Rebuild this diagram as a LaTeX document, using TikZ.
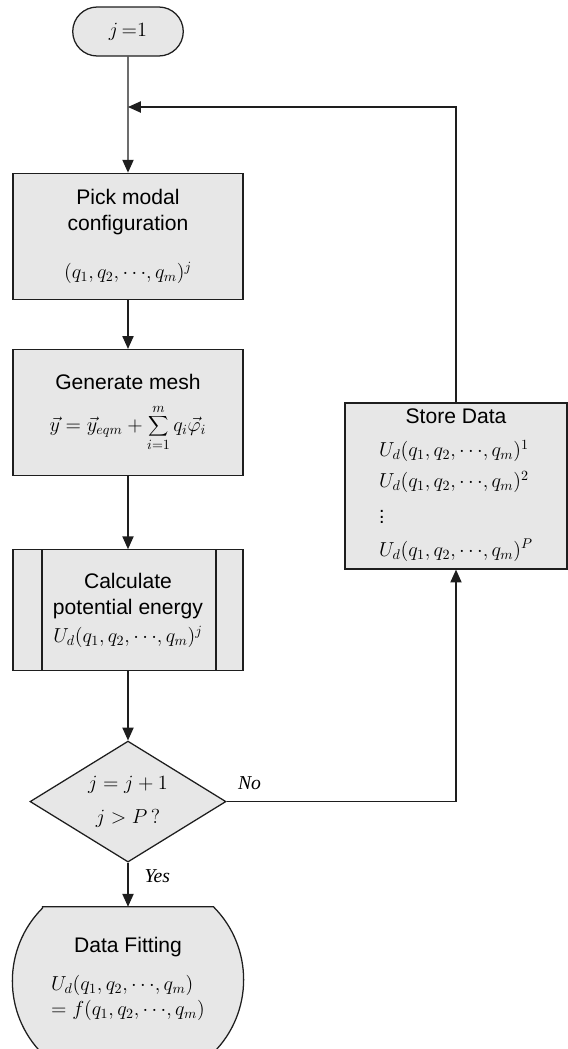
\documentclass[tikz,border=0pt]{standalone}
\usepackage{fontspec}
\setmainfont{Liberation Serif}
\setsansfont{Liberation Sans}
\usepackage{tikz}
\usetikzlibrary{arrows.meta, positioning, shapes.geometric, shapes.misc, backgrounds}
\usepackage{xcolor}
\definecolor{BoxFill}{HTML}{E7E7E7}
\definecolor{LineInk}{HTML}{1E1E1E}
\newcommand{\qlist}{q_1{,}\,q_2{,}\,{\cdots}{,}\,q_m}
\newcommand{\mfont}{\fontsize{14}{18}\selectfont}
\tikzset{
  base/.style={draw=LineInk, line width=0.9pt, fill=BoxFill, align=center,
    font=\sffamily\fontsize{15}{18.5}\selectfont, inner sep=3pt},
  termbox/.style={base, rounded rectangle, minimum width=2.975cm, minimum height=1.225cm},
  procbox/.style={base, rectangle, minimum width=5.75cm, minimum height=3.15cm},
  subbox/.style={base, rectangle, minimum width=5.75cm, minimum height=3.025cm,
    path picture={
      \draw[LineInk, line width=0.9pt]
        ([xshift=0.725cm]path picture bounding box.north west) --
        ([xshift=0.725cm]path picture bounding box.south west)
        ([xshift=-0.675cm]path picture bounding box.north east) --
        ([xshift=-0.675cm]path picture bounding box.south east);}},
  decbox/.style={base, diamond, aspect=1.6, inner sep=0pt, minimum width=4.9cm, minimum height=3.025cm},
  endbox/.style={base, rectangle, draw=none, fill=none, minimum width=5.75cm, minimum height=3.65cm},
  endline/.style={draw=LineInk, line width=0.9pt, fill=BoxFill},
  flow/.style={-{Triangle[length=3.2mm, width=2.8mm]}, draw=LineInk, line width=0.9pt},
  lab/.style={font=\rmfamily\itshape\fontsize{14}{16}\selectfont},
}

\begin{document}
\begin{tikzpicture}
    \useasboundingbox (0,0) rectangle (14.2,-26.225);
    \node[termbox] (start) at (3.2,-0.7875) {\mfont$j\,{=}1$};
    \node[procbox, below=2.9cm of start] (pick) {Pick modal\\configuration\\[16pt]\mfont$(\qlist)^j$};
    \node[procbox, below=1.225cm of pick] (mesh) {Generate mesh\\[10pt]\mfont$\displaystyle\vec{y}=\vec{y}_{eqm}+\sum_{i=1}^{m}q_i\vec{\varphi}_i$};
    \node[subbox, below=1.825cm of mesh] (calc) {Calculate\\potential energy\\[2pt]\mfont$U_d(\qlist)^j$};
    \node[decbox, below=1.725cm of calc] (dec) {\mfont$j=j+1$\\[6pt]\mfont$j>P\,?$};
    \node[endbox, below=1.1cm of dec] (fit) {Data Fitting\\[10pt]\mfont\begin{tabular}{@{}l@{}}$U_d(\qlist)$\\$=f(\qlist)$\end{tabular}};
    \node[procbox, minimum width=5.55cm, minimum height=4.15cm, inner sep=1pt] (store) at (11.4,-12.15)
      {Store Data\\[10pt]\mfont\begin{tabular}{@{}l@{}}$U_d(\qlist)^1$\\[4pt]$U_d(\qlist)^2$\\[5pt]$\vdots$\\[5pt]$U_d(\qlist)^P$\end{tabular}};
    \begin{scope}[on background layer]
      \draw[endline] ([xshift=0.756cm]fit.north west) -- ([xshift=-0.756cm]fit.north east)
        arc[start angle=45, end angle=-45, radius=2.581cm]
        -- ([xshift=0.756cm]fit.south west)
        arc[start angle=225, end angle=135, radius=2.581cm] -- cycle;
    \end{scope}
    \coordinate (join) at (start.south |- 0,-2.675);
    % main column
    \draw[flow] (start) -- (pick);
    \draw[flow] (pick) -- (mesh);
    \draw[flow] (mesh) -- (calc);
    \draw[flow] (calc) -- (dec);
    \draw[flow] (dec) -- node[lab, right=8pt, pos=0.3]{Yes} (fit);
    % loop back
    \draw[flow] (dec.east) -| node[lab, above=5pt, pos=0.05]{No} (store.south);
    \draw[flow] (store.north) |- (join);
  \end{tikzpicture}
\end{document}
